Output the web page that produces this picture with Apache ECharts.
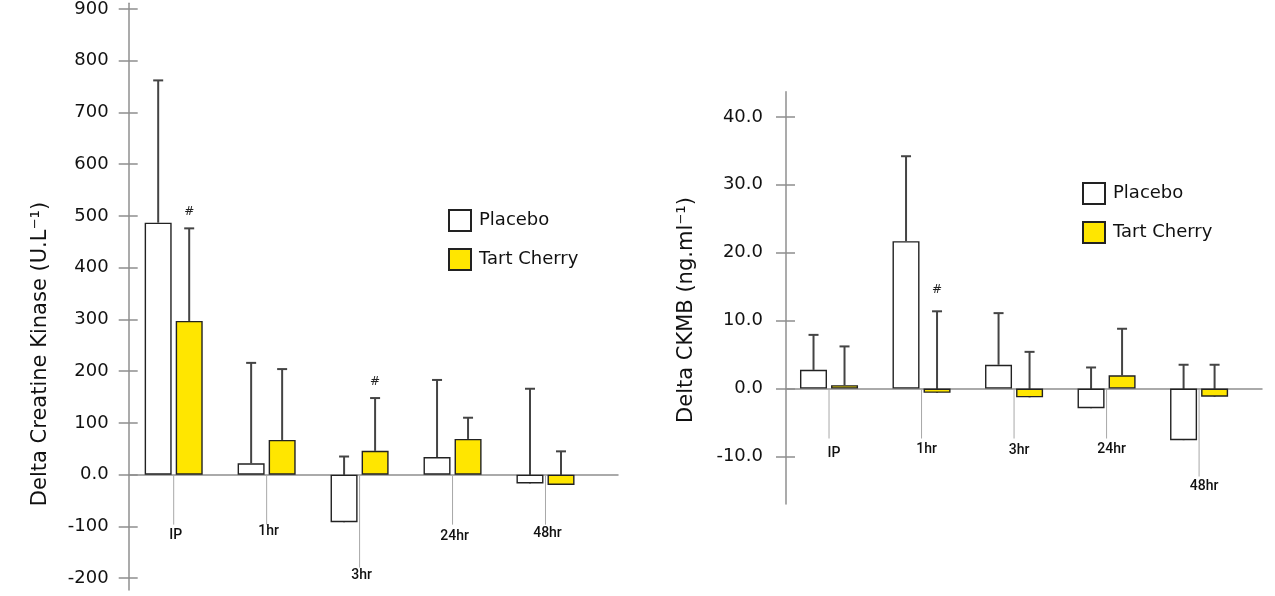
<!DOCTYPE html>
<html><head><meta charset="utf-8">
<script src="https://cdn.jsdelivr.net/npm/echarts@6/dist/echarts.min.js"></script>
<style>html,body{margin:0;padding:0;background:#fff}#c{width:1275px;height:596px}</style>
</head><body><div id="c"></div>
<script>
// ---- data ----
const categories = ['IP', '1hr', '3hr', '24hr', '48hr'];
const seriesNames = ['Placebo', 'Tart Cherry'];

const ckPlacebo    = [487, 22, -92, 34, -17];
const ckPlaceboSD  = [275, 194, 127, 149, 183];
const ckCherry     = [297, 67, 46, 69, -20];
const ckCherrySD   = [179, 137, 102, 41, 65];
const ckCherrySig  = [true, false, true, false, false];
const ckTicks      = [-200, -100, 0, 100, 200, 300, 400, 500, 600, 700, 800, 900];

const ckmbPlacebo   = [2.75, 21.7, 3.5, -2.9, -7.6];
const ckmbPlaceboSD = [5.15, 12.5, 7.6, 6.0, 11.1];
const ckmbCherry    = [0.5, -0.63, -1.3, 1.95, -1.2];
const ckmbCherrySD  = [5.7, 12.0, 6.7, 6.85, 4.7];
const ckmbCherrySig = [false, true, false, false, false];
const ckmbTicks     = [-10, 0, 10, 20, 30, 40];

// ---- layout / style ----
const FONT = '"DejaVu Sans", sans-serif';
const LABEL_FONT = '500 14px Roboto, "DejaVu Sans", sans-serif';
const AXIS_GRAY = '#8f8f8f';
const CHERRY = '#FFE600';
const leaderLayoutLeft  = { depth: [50, 50, 93, 50, 50], drop: [11, 7, 8, 12, 9], dx: 2 };
const leaderLayoutRight = { depth: [50, 50, 50, 50, 88], drop: [15, 11, 12, 11, 10], dx: 5 };
const HALF = 15.5;

const chart = echarts.init(document.getElementById('c'));

function barSeries(name, values, color, gi) {
  return {
    type: 'bar', name, xAxisIndex: gi, yAxisIndex: gi * 2,
    data: values.map((v, i) => [i, v]),
    barWidth: 27, barGap: '15%', z: 3,
    itemStyle: { color, borderColor: '#222', borderWidth: 1.4 },
    emphasis: { disabled: true }, animation: false
  };
}

function errorSeries(gi, p, pSD, c, cSD, sig, sigOffset) {
  return {
    type: 'custom', xAxisIndex: gi, yAxisIndex: gi * 2, z: 2, silent: true, animation: false,
    data: categories.map((_, i) => [i, Math.max(p[i] + pSD[i], c[i] + cSD[i])]),
    renderItem(params, api) {
      const i = params.dataIndex;
      const children = [];
      [[p, pSD, -HALF], [c, cSD, HALF]].forEach(([v, sd, dx], k) => {
        const a = api.coord([i, v[i]]);
        const b = api.coord([i, v[i] + sd[i]]);
        const x = a[0] + dx;
        children.push({ type: 'line', shape: { x1: x, y1: a[1], x2: x, y2: b[1] }, style: { stroke: '#444', lineWidth: 2 } });
        children.push({ type: 'line', shape: { x1: x - 5, y1: b[1], x2: x + 5, y2: b[1] }, style: { stroke: '#444', lineWidth: 2 } });
        if (k === 1 && sig[i]) {
          children.push({ type: 'text', x: x, y: b[1] - sigOffset,
            style: { text: '#', fill: '#222', font: '12px ' + FONT, textAlign: 'center', textVerticalAlign: 'middle' } });
        }
      });
      return { type: 'group', children };
    }
  };
}

function leaderSeries(gi, layout) {
  return {
    type: 'custom', xAxisIndex: gi, yAxisIndex: gi * 2, z: 1, silent: true, animation: false,
    data: categories.map((_, i) => [i, 0]),
    renderItem(params, api) {
      const i = params.dataIndex;
      const o = api.coord([i, 0]);
      const end = o[1] + layout.depth[i];
      return { type: 'group', children: [
        { type: 'line', shape: { x1: o[0], y1: o[1], x2: o[0], y2: end }, style: { stroke: '#a8a8a8', lineWidth: 1 } },
        { type: 'text', x: o[0] + layout.dx, y: end + layout.drop[i],
          style: { text: categories[i], fill: '#111', font: LABEL_FONT, textAlign: 'center', textVerticalAlign: 'middle' } }
      ] };
    }
  };
}

function yAxes(gi, min, max, ticks, fmt, margin) {
  return [
    { type: 'value', gridIndex: gi, position: 'left', min, max,
      axisLine: { show: true, onZero: false, lineStyle: { color: AXIS_GRAY, width: 1.5 } },
      axisTick: { show: true, customValues: ticks, length: 10, lineStyle: { color: AXIS_GRAY, width: 1.5 } },
      axisLabel: { customValues: ticks, formatter: fmt, margin, color: '#111', fontSize: 18, fontFamily: FONT },
      splitLine: { show: false } },
    { type: 'value', gridIndex: gi, position: 'left', offset: 0, min, max,
      axisLine: { show: false, onZero: false },
      axisTick: { show: true, inside: true, customValues: ticks, length: 9, lineStyle: { color: AXIS_GRAY, width: 1.5 } },
      axisLabel: { show: false }, splitLine: { show: false } }
  ];
}

function xAxis(gi, min, max) {
  return { type: 'value', gridIndex: gi, min, max,
    axisLine: { show: true, onZero: true, lineStyle: { color: AXIS_GRAY, width: 1.5 } },
    axisTick: { show: false }, axisLabel: { show: false }, splitLine: { show: false } };
}

function legend(left, top) {
  return { data: seriesNames, left, top, orient: 'vertical', icon: 'rect', padding: 0,
    itemWidth: 22, itemHeight: 21, itemGap: 16, selectedMode: false,
    textStyle: { fontSize: 18, fontFamily: FONT, color: '#111', padding: [0, 0, 0, 3] } };
}

const option = {
  backgroundColor: '#fff',
  animation: false,
  grid: [
    { left: 128.7, right: 1275 - 618, top: 0, bottom: 6 },
    { left: 786, right: 13, top: 91.7, bottom: 92 }
  ],
  xAxis: [xAxis(0, -0.484, 4.78), xAxis(1, -0.465, 4.68)],
  yAxis: [
    ...yAxes(0, -223, 911, ckTicks, v => v === 0 ? '0.0' : String(v), 20),
    ...yAxes(1, -17, 43.7, ckmbTicks, v => v.toFixed(1), 23)
  ],
  legend: [legend(448, 209), legend(1082, 182)],
  graphic: [
    { type: 'text', x: 41, y: 354, rotation: Math.PI / 2,
      style: { text: 'Delta Creatine Kinase (U.L\u207B\u00B9)', fill: '#111', font: '21px ' + FONT, textAlign: 'center', textVerticalAlign: 'middle' } },
    { type: 'text', x: 687, y: 310, rotation: Math.PI / 2,
      style: { text: 'Delta CKMB (ng.ml\u207B\u00B9)', fill: '#111', font: '21px ' + FONT, textAlign: 'center', textVerticalAlign: 'middle' } }
  ],
  series: [
    barSeries(seriesNames[0], ckPlacebo, '#fff', 0),
    barSeries(seriesNames[1], ckCherry, CHERRY, 0),
    errorSeries(0, ckPlacebo, ckPlaceboSD, ckCherry, ckCherrySD, ckCherrySig, 16),
    leaderSeries(0, leaderLayoutLeft),
    barSeries(seriesNames[0], ckmbPlacebo, '#fff', 1),
    barSeries(seriesNames[1], ckmbCherry, CHERRY, 1),
    errorSeries(1, ckmbPlacebo, ckmbPlaceboSD, ckmbCherry, ckmbCherrySD, ckmbCherrySig, 21),
    leaderSeries(1, leaderLayoutRight)
  ]
};
chart.setOption(option);
</script>
</body></html>
